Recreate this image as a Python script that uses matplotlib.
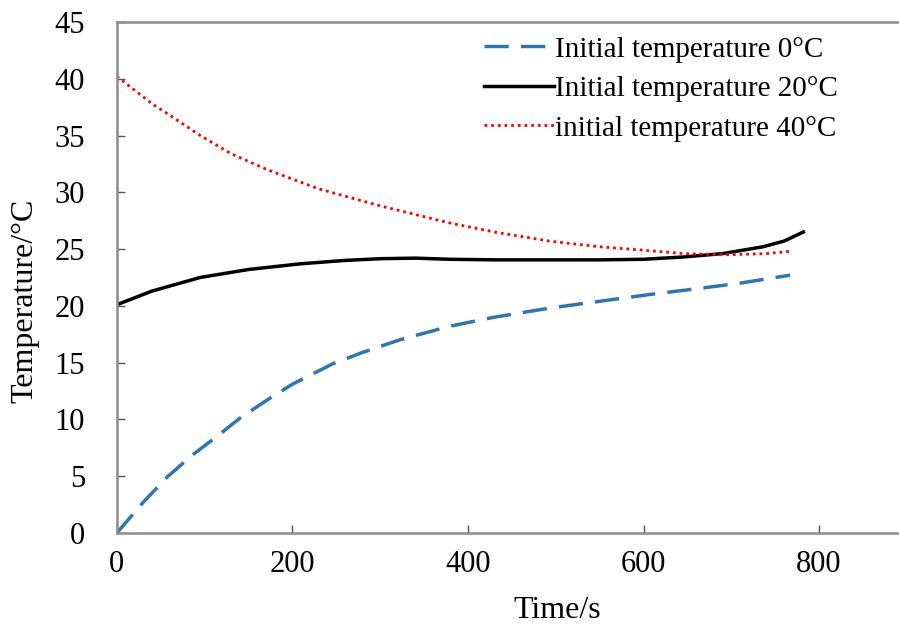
import matplotlib
matplotlib.use("Agg")
import matplotlib.pyplot as plt

# データ
t_0 = [0, 30, 57, 85, 114, 140, 171, 200, 246, 280, 322, 379, 430, 493, 550, 607, 660, 710, 767]
T_0 = [0, 2.7, 4.9, 6.8, 8.5, 10.1, 11.7, 13.1, 14.9, 15.9, 17.0, 18.2, 19.0, 19.8, 20.4, 21.0, 21.5, 22.0, 22.7]

t_20 = [0, 20, 40, 95, 150, 209, 260, 300, 340, 379, 430, 493, 550, 600, 645, 690, 736, 760, 782]
T_20 = [20.1, 20.7, 21.3, 22.5, 23.2, 23.7, 24.0, 24.15, 24.2, 24.1, 24.05, 24.05, 24.05, 24.1, 24.3, 24.6, 25.2, 25.7, 26.5]

t_40 = [0, 20, 40, 60, 95, 130, 171, 230, 300, 379, 430, 493, 550, 600, 645, 700, 740, 767]
T_40 = [40.2, 39.0, 37.8, 36.8, 35.0, 33.4, 32.0, 30.3, 28.8, 27.3, 26.5, 25.7, 25.2, 24.9, 24.6, 24.5, 24.6, 24.8]

labels = ["Initial temperature 0°C", "Initial temperature 20°C", "initial temperature 40°C"]

plt.rcParams['font.family'] = ['Liberation Serif', 'DejaVu Serif']

fig = plt.figure(figsize=(8.99, 6.27), dpi=100)
ax = fig.add_axes([0.130, 0.150, 0.870, 0.815])

ax.plot(t_0, T_0, color='#2E75B6', lw=2.5, dashes=(7, 3.5), label=labels[0])
ax.plot(t_20, T_20, color='black', lw=2.5, label=labels[1])
ax.plot(t_40, T_40, color='#FF0000', lw=2, linestyle=(0, (1, 1.4)), label=labels[2])

ax.set_xlim(0, 891)
ax.set_ylim(0, 45)
ax.set_xticks([0, 200, 400, 600, 800])
ax.set_yticks(range(0, 46, 5))

# 軸の設定
for s in ['left', 'bottom', 'top']:
    ax.spines[s].set_color('#8c8c8c')
    ax.spines[s].set_linewidth(1.8)
ax.spines['right'].set_visible(False)
ax.tick_params(axis='both', direction='in', length=6, width=1, color='#555555',
               labelsize=22, top=False, right=False)
ax.tick_params(axis='x', pad=12)
ax.tick_params(axis='y', pad=23)

ax.set_xlabel("Time/s", fontsize=23, va='center')
ax.set_ylabel("Temperature/°C", fontsize=23, va='center')
ax.xaxis.set_label_coords(0.563, -0.151)
ax.yaxis.set_label_coords(-0.118, 0.454)

ax.legend(loc='upper right', frameon=False, fontsize=21, handlelength=2.4,
          handletextpad=0.05, labelspacing=0.45, borderaxespad=0,
          bbox_to_anchor=(0.937, 0.995))

fig.savefig("out.png", dpi=100)
